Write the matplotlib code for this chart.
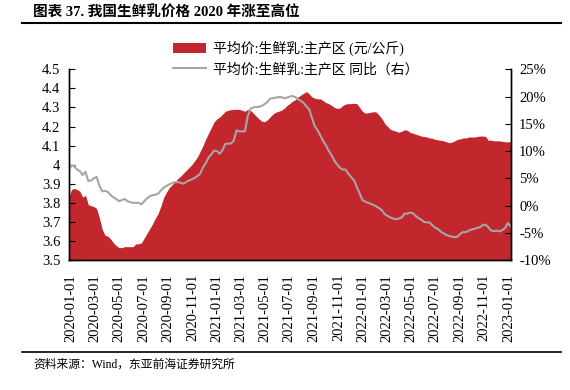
import matplotlib
matplotlib.use("Agg")
import matplotlib.pyplot as plt
import matplotlib.dates as mdates
from matplotlib.patches import Patch
from matplotlib.lines import Line2D
import pandas as pd

# weekly data, first week ending 2019-12-27
start_date = "2019-12-27"

# 平均价:生鲜乳:主产区 (元/公斤)
price = [
    3.83, 3.87, 3.875, 3.87, 3.86, 3.83, 3.84, 3.79, 3.785, 3.78,
    3.77, 3.72, 3.66, 3.63, 3.625, 3.61, 3.59, 3.575, 3.565, 3.565,
    3.57, 3.57, 3.57, 3.57, 3.585, 3.585, 3.59, 3.615, 3.64, 3.665,
    3.69, 3.72, 3.745, 3.785, 3.83, 3.857, 3.88, 3.895, 3.91, 3.927,
    3.94, 3.955, 3.97, 3.985, 4.00, 4.02, 4.04, 4.07, 4.10, 4.135,
    4.165, 4.195, 4.225, 4.24, 4.25, 4.265, 4.28, 4.285, 4.288, 4.29,
    4.29, 4.29, 4.285, 4.28, 4.29, 4.285, 4.27, 4.255, 4.24, 4.228,
    4.225, 4.235, 4.25, 4.265, 4.275, 4.28, 4.285, 4.295, 4.31, 4.32,
    4.333, 4.34, 4.355, 4.365, 4.375, 4.383, 4.37, 4.355, 4.348, 4.345,
    4.345, 4.335, 4.325, 4.32, 4.31, 4.30, 4.295, 4.298, 4.31, 4.318,
    4.32, 4.32, 4.322, 4.32, 4.30, 4.28, 4.27, 4.272, 4.275, 4.278,
    4.275, 4.258, 4.24, 4.215, 4.20, 4.185, 4.18, 4.175, 4.17, 4.175,
    4.183, 4.18, 4.17, 4.165, 4.16, 4.155, 4.15, 4.148, 4.145, 4.14,
    4.138, 4.133, 4.13, 4.128, 4.125, 4.12, 4.115, 4.118, 4.125, 4.133,
    4.135, 4.14, 4.14, 4.145, 4.145, 4.145, 4.148, 4.15, 4.15, 4.148,
    4.128, 4.128, 4.125, 4.125, 4.125, 4.122, 4.12, 4.12, 4.12,
]

# 平均价:生鲜乳:主产区 同比 (%)
yoy = [
    6.3, 7.4, 7.2, 6.6, 6.3, 5.6, 6.2, 4.5, 4.6, 5.0,
    5.25, 3.6, 2.6, 2.7, 2.5, 1.9, 1.5, 1.2, 0.8, 1.0,
    1.2, 0.8, 0.6, 0.5, 0.5, 0.5, 0.2, 0.8, 1.3, 1.7,
    1.9, 2.0, 2.2, 2.8, 3.3, 3.6, 3.9, 4.1, 4.3, 4.3,
    4.2, 4.0, 4.3, 4.6, 4.8, 5.05, 5.4, 5.85, 7.0, 7.8,
    8.8, 9.4, 10.1, 10.0, 9.5, 10.2, 11.3, 11.35, 11.4, 11.9,
    13.8, 13.6, 13.6, 13.6, 16.4, 17.8, 18.0, 18.1, 18.1, 18.3,
    18.6, 19.0, 19.6, 19.7, 19.8, 19.9, 19.9, 19.7, 19.8, 20.0,
    20.1, 19.9, 19.5, 19.2, 18.8, 18.2, 17.6, 16.0, 14.5, 13.8,
    12.8, 11.8, 11.0, 10.0, 9.2, 8.2, 7.5, 6.9, 6.6, 6.6,
    5.8, 5.2, 4.6, 3.4, 2.2, 1.0, 0.7, 0.5, 0.3, 0.1,
    -0.2, -0.5, -0.9, -1.6, -1.9, -2.2, -2.4, -2.5, -2.4, -2.2,
    -1.5, -1.5, -1.3, -1.4, -1.9, -2.3, -2.6, -3.0, -3.1, -3.1,
    -3.6, -4.1, -4.3, -4.8, -5.1, -5.4, -5.6, -5.7, -5.8, -5.7,
    -5.2, -4.85, -4.9, -4.6, -4.4, -4.3, -4.1, -4.0, -3.6, -3.5,
    -4.0, -4.6, -4.7, -4.6, -4.75, -4.5, -4.1, -3.2, -3.8,
]

label_price = "平均价:生鲜乳:主产区 (元/公斤)"
label_yoy = "平均价:生鲜乳:主产区 同比（右）"
title = "图表 37. 我国生鲜乳价格 2020 年涨至高位"
source = "资料来源：Wind，东亚前海证券研究所"

dates = pd.date_range(start_date, periods=len(price), freq="7D")

fonts = ["Liberation Serif", "Noto Sans CJK SC"]
plt.rcParams["font.family"] = fonts

red = "#C1272D"
gray = "#A6A6A6"

fig = plt.figure(figsize=(5.7, 3.9), dpi=100)
ax = fig.add_axes([0.1205, 0.3333, 0.7755, 0.489])

ax.fill_between(dates, 3.5, price, color=red, linewidth=0)
ax.set_ylim(3.5, 4.5)
ax.set_yticks([3.5 + 0.1 * k for k in range(11)])
ax.yaxis.set_major_formatter(plt.FuncFormatter(lambda v, p: "%g" % round(v, 1)))
ax.set_xlim(dates[0], dates[-1])

ax2 = ax.twinx()
ax2.plot(dates, yoy, color=gray, linewidth=1.5)
ax2.set_ylim(-10, 25)
ax2.set_yticks(range(-10, 30, 5))
ax2.yaxis.set_major_formatter(plt.FuncFormatter(lambda v, p: "%d%%" % v))

ax.xaxis.set_major_locator(mdates.MonthLocator(bymonth=[1, 3, 5, 7, 9, 11]))
ax.xaxis.set_major_formatter(mdates.DateFormatter("%Y-%m-%d"))
ax.set_xlim(dates[0], dates[-1])
for lab in ax.get_xticklabels():
    lab.set_rotation(90)

for a in (ax, ax2):
    a.spines["top"].set_visible(False)
    for s in ("left", "right", "bottom"):
        a.spines[s].set_linewidth(1.0)
        a.spines[s].set_color("black")
ax.tick_params(axis="y", direction="in", length=4, labelsize=10.5, pad=6)
ax2.tick_params(axis="y", direction="in", length=4, labelsize=10.5, pad=6)
ax.tick_params(axis="x", length=0, labelsize=10.5, pad=10)

handles = [Patch(facecolor=red, edgecolor="none"),
           Line2D([0], [0], color=gray, linewidth=1.5)]
fig.legend(handles, [label_price, label_yoy], loc="upper left",
           bbox_to_anchor=(0.303, 0.895), frameon=False, fontsize=10,
           handlelength=2.4, handletextpad=0.5, labelspacing=0.45,
           borderpad=0, borderaxespad=0)

fig.text(0.058, 0.966, title, fontsize=10.5, fontweight="bold",
         va="center", ha="left")
fig.add_artist(Line2D([0.039, 0.985], [0.94, 0.94], transform=fig.transFigure,
                      color="black", linewidth=1.5))
fig.add_artist(Line2D([0.039, 0.985], [0.097, 0.097], transform=fig.transFigure,
                      color="black", linewidth=1.2))
fig.text(0.058, 0.064, source, fontsize=8.5, va="center", ha="left")

fig.savefig("out.png", dpi=100)
